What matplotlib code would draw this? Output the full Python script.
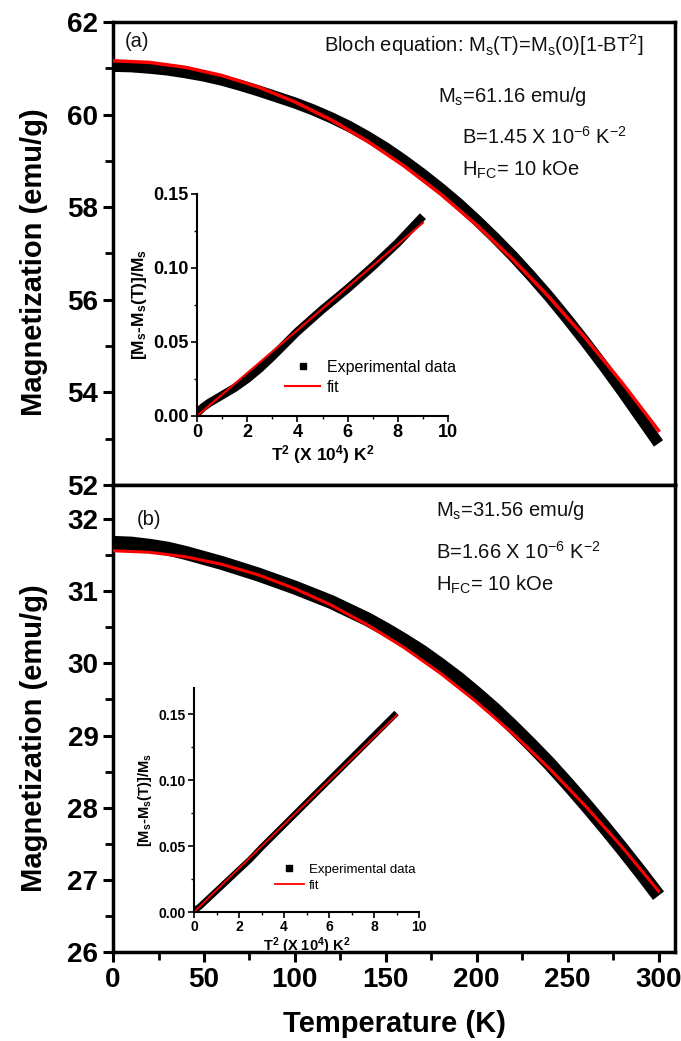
import numpy as np
import matplotlib
matplotlib.use('Agg')
import matplotlib.pyplot as plt
from matplotlib.lines import Line2D
from matplotlib.ticker import MultipleLocator, FormatStrFormatter

plt.rcParams['font.family'] = ['Liberation Sans', 'DejaVu Sans']
plt.rcParams['mathtext.fontset'] = 'custom'
plt.rcParams['mathtext.rm'] = 'Liberation Sans'
plt.rcParams['mathtext.it'] = 'Liberation Sans:italic'
plt.rcParams['mathtext.bf'] = 'Liberation Sans:bold'

# (a) main panel: experimental M(T) and Bloch fit
T_data = [0, 10, 20, 30, 40, 50, 60, 70, 80, 90, 100, 110, 120, 130, 140, 150,
          160, 170, 180, 190, 200, 210, 220, 230, 240, 250, 260, 270, 280, 290, 300]
Ma_data = [61.04, 61.03, 61.00, 60.96, 60.90, 60.83, 60.74, 60.63, 60.51, 60.38, 60.25,
           60.10, 59.93, 59.74, 59.52, 59.28, 59.01, 58.72, 58.41, 58.08, 57.72,
           57.34, 56.94, 56.51, 56.06, 55.58, 55.08, 54.56, 54.02, 53.46, 52.90]
T_fit = [0, 20, 40, 60, 80, 100, 120, 140, 160, 180, 200, 220, 240, 260, 280, 300]
Ma_fit = [61.16, 61.125, 61.018, 60.841, 60.592, 60.273, 59.883, 59.422, 58.890,
          58.287, 57.613, 56.868, 56.052, 55.165, 54.207, 53.179]

# (b) main panel
Mb_data = [31.67, 31.66, 31.63, 31.59, 31.53, 31.46, 31.39, 31.31, 31.23, 31.14, 31.05,
           30.95, 30.85, 30.73, 30.61, 30.47, 30.32, 30.16, 29.98, 29.79, 29.58,
           29.36, 29.12, 28.87, 28.61, 28.33, 28.04, 27.74, 27.43, 27.11, 26.78]
Mb_fit = [31.56, 31.539, 31.476, 31.371, 31.225, 31.036, 30.806, 30.533, 30.219,
          29.863, 29.464, 29.024, 28.542, 28.018, 27.453, 26.845]

# insets: [Ms - Ms(T)]/Ms vs T^2 (x 10^4 K^2)
T2_data = [0, 0.25, 0.5, 1, 1.5, 2, 2.5, 3, 4, 5, 6, 7, 8, 9]
ia_data = [0.002, 0.006, 0.009, 0.014, 0.019, 0.025, 0.032, 0.040, 0.057, 0.072,
           0.086, 0.101, 0.117, 0.135]
T2_fit = [0, 1, 2, 3, 4, 5, 6, 7, 8, 9]
ia_fit = [0, 0.0145, 0.029, 0.0435, 0.058, 0.0725, 0.087, 0.1015, 0.116, 0.1305]
ib_data = [0.001, 0.004, 0.008, 0.016, 0.024, 0.032, 0.040, 0.049, 0.066, 0.083,
           0.100, 0.117, 0.134, 0.151]
ib_fit = [0, 0.0166, 0.0332, 0.0498, 0.0664, 0.083, 0.0996, 0.1162, 0.1328, 0.1494]

fig = plt.figure(figsize=(6.81, 10.41), dpi=100)
ax1 = fig.add_axes([0.166, 0.534, 0.825, 0.445])
ax2 = fig.add_axes([0.166, 0.0855, 0.825, 0.4485])


def style_main(ax):
    for s in ax.spines.values():
        s.set_linewidth(2.5)
    ax.set_xlim(0, 309)
    ax.xaxis.set_major_locator(MultipleLocator(50))
    ax.xaxis.set_minor_locator(MultipleLocator(25))
    ax.tick_params(which='major', direction='out', length=7, width=2.2,
                   labelsize=20, top=False, right=False)
    ax.tick_params(which='minor', direction='out', length=6, width=2,
                   top=False, right=False)
    for lab in ax.get_xticklabels() + ax.get_yticklabels():
        lab.set_fontweight('bold')


ax1.plot(T_data, Ma_data, color='black', lw=8, solid_capstyle='butt', zorder=2)
ax1.plot(T_fit, Ma_fit, color='red', lw=2.5, zorder=3)
ax1.set_ylim(52, 62)
ax1.yaxis.set_major_locator(MultipleLocator(2))
ax1.yaxis.set_minor_locator(MultipleLocator(1))
style_main(ax1)
ax1.tick_params(labelbottom=False)

ax2.plot(T_data, Mb_data, color='black', lw=10, solid_capstyle='butt', zorder=2)
ax2.plot(T_fit, Mb_fit, color='red', lw=2.2, zorder=3)
ax2.set_ylim(26, 32.47)
ax2.yaxis.set_major_locator(MultipleLocator(1))
ax2.yaxis.set_minor_locator(MultipleLocator(0.5))
style_main(ax2)

# annotations
tk = dict(fontsize=14.5, color='#111111')
ax1.text(0.021, 0.957, '(a)', transform=ax1.transAxes, va='center', **tk)
ax1.text(0.659, 0.950, r'Bloch equation: M$_\mathregular{s}$(T)=M$_\mathregular{s}$(0)[1-BT$^\mathregular{2}$]',
         transform=ax1.transAxes, ha='center', va='center', **tk)
ax1.text(0.578, 0.838, r'M$_\mathregular{s}$=61.16 emu/g', transform=ax1.transAxes,
         va='center', **tk)
ax1.text(0.621, 0.752, r'B=1.45 X 10$^\mathregular{-6}$ K$^\mathregular{-2}$',
         transform=ax1.transAxes, va='center', **tk)
ax1.text(0.621, 0.680, r'H$_\mathregular{FC}$= 10 kOe', transform=ax1.transAxes,
         va='center', **tk)

ax2.text(0.043, 0.927, '(b)', transform=ax2.transAxes, va='center', **tk)
ax2.text(0.575, 0.946, r'M$_\mathregular{s}$=31.56 emu/g', transform=ax2.transAxes,
         va='center', **tk)
ax2.text(0.575, 0.857, r'B=1.66 X 10$^\mathregular{-6}$ K$^\mathregular{-2}$',
         transform=ax2.transAxes, va='center', **tk)
ax2.text(0.575, 0.786, r'H$_\mathregular{FC}$= 10 kOe', transform=ax2.transAxes,
         va='center', **tk)

lab_kw = dict(fontsize=21, fontweight='bold', rotation=90, ha='center', va='center')
fig.text(0.050, 0.748, 'Magnetization (emu/g)', **lab_kw)
fig.text(0.050, 0.291, 'Magnetization (emu/g)', **lab_kw)
fig.text(0.579, 0.016, 'Temperature (K)', fontsize=21, fontweight='bold',
         ha='center', va='center')


def style_inset(ax, ymax, fs_tick, fs_lab):
    ax.set_xlim(0, 10)
    ax.set_ylim(0, ymax)
    ax.spines['top'].set_visible(False)
    ax.spines['right'].set_visible(False)
    for s in ['left', 'bottom']:
        ax.spines[s].set_linewidth(1.5)
    ax.xaxis.set_major_locator(MultipleLocator(2))
    ax.xaxis.set_minor_locator(MultipleLocator(1))
    ax.yaxis.set_major_locator(MultipleLocator(0.05))
    ax.yaxis.set_minor_locator(MultipleLocator(0.025))
    ax.yaxis.set_major_formatter(FormatStrFormatter('%.2f'))
    ax.tick_params(which='major', direction='out', length=4, width=1.2,
                   labelsize=fs_tick, pad=2)
    ax.tick_params(which='minor', direction='out', length=2.5, width=1)
    for lab in ax.get_xticklabels() + ax.get_yticklabels():
        lab.set_fontweight('bold')
    ax.set_xlabel(r'T$^\mathbf{2}$ (X 10$^\mathbf{4}$) K$^\mathbf{2}$', fontsize=fs_lab,
                  fontweight='bold', labelpad=1)
    ax.set_ylabel(r'[M$_\mathbf{s}$-M$_\mathbf{s}$(T)]/M$_\mathbf{s}$', fontsize=fs_lab,
                  fontweight='bold', labelpad=3)
    ax.patch.set_alpha(0)


axa = fig.add_axes([0.2893, 0.6004, 0.3686, 0.2133])
axa.plot(T2_data, ia_data, color='black', lw=6, solid_capstyle='butt')
axa.plot(T2_fit, ia_fit, color='red', lw=1.5)
style_inset(axa, 0.15, 13, 12.5)
hd = [Line2D([], [], color='black', marker='s', ls='none', markersize=5),
      Line2D([], [], color='red', lw=1.5)]
axa.legend(hd, ['Experimental data', 'fit'], loc='lower left',
           bbox_to_anchor=(0.32, 0.06), frameon=False, fontsize=11.5,
           handlelength=2.2, handletextpad=0.4, labelspacing=0.3, borderpad=0)

axb = fig.add_axes([0.2849, 0.1239, 0.3304, 0.2152])
axb.plot(T2_data, ib_data, color='black', lw=4.5, solid_capstyle='butt')
axb.plot(T2_fit, ib_fit, color='red', lw=1.3)
style_inset(axb, 0.17, 10, 10.5)
hd = [Line2D([], [], color='black', marker='s', ls='none', markersize=4),
      Line2D([], [], color='red', lw=1.3)]
axb.legend(hd, ['Experimental data', 'fit'], loc='lower left',
           bbox_to_anchor=(0.33, 0.06), frameon=False, fontsize=9.5,
           handlelength=2.2, handletextpad=0.4, labelspacing=0.3, borderpad=0)

fig.savefig('out.png', dpi=100)
